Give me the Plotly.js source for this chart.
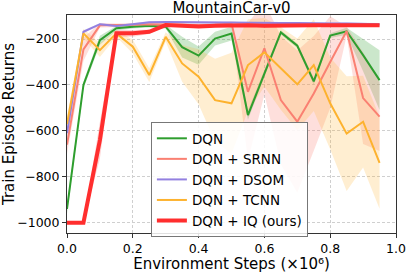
<!DOCTYPE html>
<html>
<head>
<meta charset="utf-8">
<script src="https://cdn.plot.ly/plotly-3.0.1.min.js"></script>
<style>html,body{margin:0;padding:0;background:#fff;}#chart{width:407px;height:273px;}</style>
</head>
<body>
<div id="chart"></div>
<script>
// Environment steps (x 10^6)
const steps = [0, 0.05, 0.1, 0.15, 0.2, 0.25, 0.3, 0.35, 0.4, 0.45, 0.5, 0.55, 0.6, 0.65, 0.7, 0.75, 0.8, 0.85, 0.9, 0.95];

const seriesNames = ["DQN", "DQN + SRNN", "DQN + DSOM", "DQN + TCNN", "DQN + IQ (ours)"];

// mean returns
const dqnMean  = [-940, -400, -205, -153, -146, -142, -146, -235, -272, -198, -176, -531, -350, -171, -229, -384, -185, -166, -270, -379];
const srnnMean = [-660, -245, -140, -140, -138, -135, -135, -138, -140, -138, -132, -430, -240, -466, -560, -437, -300, -165, -457, -538];
const dsomMean = [-610, -168, -135, -143, -135, -127, -126, -127, -128, -128, -128, -128, -130, -130, -130, -132, -132, -132, -133, -135];
const tcnnMean = [-570, -175, -248, -175, -233, -357, -190, -306, -364, -466, -480, -313, -258, -328, -397, -313, -480, -612, -560, -739];
const iqMean   = [-1000, -1000, -640, -175, -175, -168, -139, -143, -145, -142, -140, -140, -142, -140, -138, -140, -140, -140, -140, -140];

// half-width of the shaded band
const dqnBand  = [20, 15, 20, 10, 8, 8, 8, 45, 40, 30, 30, 20, 15, 10, 10, 15, 10, 15, 70, 130];
const srnnBand = [40, 50, 10, 8, 8, 8, 8, 8, 8, 8, 10, 300, 200, 280, 310, 250, 200, 20, 200, 150];
const dsomBand = [20, 6, 5, 5, 5, 5, 5, 5, 5, 5, 5, 5, 5, 5, 5, 5, 5, 5, 5, 5];
const tcnnBand = [30, 20, 30, 15, 30, 30, 20, 80, 120, 180, 220, 200, 150, 180, 200, 200, 200, 250, 200, 200];
const iqBand   = [0, 0, 80, 15, 15, 10, 5, 5, 5, 5, 5, 5, 5, 5, 5, 5, 5, 5, 5, 5];

const lineColors = ["#2e9e2e", "#fa8072", "#9380e0", "#fdb22e", "#ff2e2e"];
const bandColors = ["rgba(46,158,46,0.25)", "rgba(250,128,114,0.25)", "rgba(147,128,224,0.2)", "rgba(253,178,46,0.22)", "rgba(255,46,46,0.2)"];
const lineWidths = [2, 2, 2, 2, 4];

const means = [dqnMean, srnnMean, dsomMean, tcnnMean, iqMean];
const bands = [dqnBand, srnnBand, dsomBand, tcnnBand, iqBand];

const traces = [];
means.forEach((m, i) => {
  const lo = m.map((v, k) => v - bands[i][k]);
  const hi = m.map((v, k) => v + bands[i][k]);
  traces.push({x: steps, y: lo, type: "scatter", mode: "lines", line: {width: 0, color: bandColors[i]},
    showlegend: false, hoverinfo: "skip"});
  traces.push({x: steps, y: hi, type: "scatter", mode: "lines", line: {width: 0, color: bandColors[i]},
    fill: "tonexty", fillcolor: bandColors[i], showlegend: false, hoverinfo: "skip"});
});
means.forEach((m, i) => {
  traces.push({x: steps, y: m, type: "scatter", mode: "lines", name: seriesNames[i],
    line: {color: lineColors[i], width: lineWidths[i]}});
});

const axisCommon = {
  showline: true, mirror: true, linecolor: "#333", linewidth: 1,
  ticks: "outside", ticklen: 4, tickcolor: "#333", tickwidth: 1,
  showgrid: true, gridcolor: "#cfcfcf", griddash: "3px,2px", gridwidth: 1,
  zeroline: false, tickfont: {size: 12.5, color: "#000"}
};

const layout = {
  width: 407, height: 273,
  margin: {l: 67, r: 11, t: 15, b: 40},
  paper_bgcolor: "#fff", plot_bgcolor: "#fff",
  font: {family: "DejaVu Sans", color: "#000"},
  title: {text: "MountainCar-v0", font: {family: "DejaVu Sans", size: 15, color: "#000"}, x: 0.5, xanchor: "center", xref: "paper", y: 0.972, yanchor: "middle"},
  xaxis: Object.assign({}, axisCommon, {
    range: [0, 1], tickvals: [0, 0.2, 0.4, 0.6, 0.8, 1.0], tickformat: ".1f",
    title: {text: "Environment Steps (×10⁶)", font: {size: 15}, standoff: 10}
  }),
  yaxis: Object.assign({}, axisCommon, {
    range: [-1045, -95], tickvals: [-1000, -800, -600, -400, -200],
    title: {text: "Train Episode Returns", font: {size: 15}, standoff: 4}
  }),
  legend: {
    x: 0.255, y: 0.509, xanchor: "left", yanchor: "top", traceorder: "normal",
    bgcolor: "rgba(255,255,255,0.85)", bordercolor: "#777", borderwidth: 1,
    font: {size: 13.5}, itemwidth: 30
  },
  showlegend: true
};

Plotly.newPlot("chart", traces, layout, {staticPlot: true, displayModeBar: false});
</script>
</body>
</html>
